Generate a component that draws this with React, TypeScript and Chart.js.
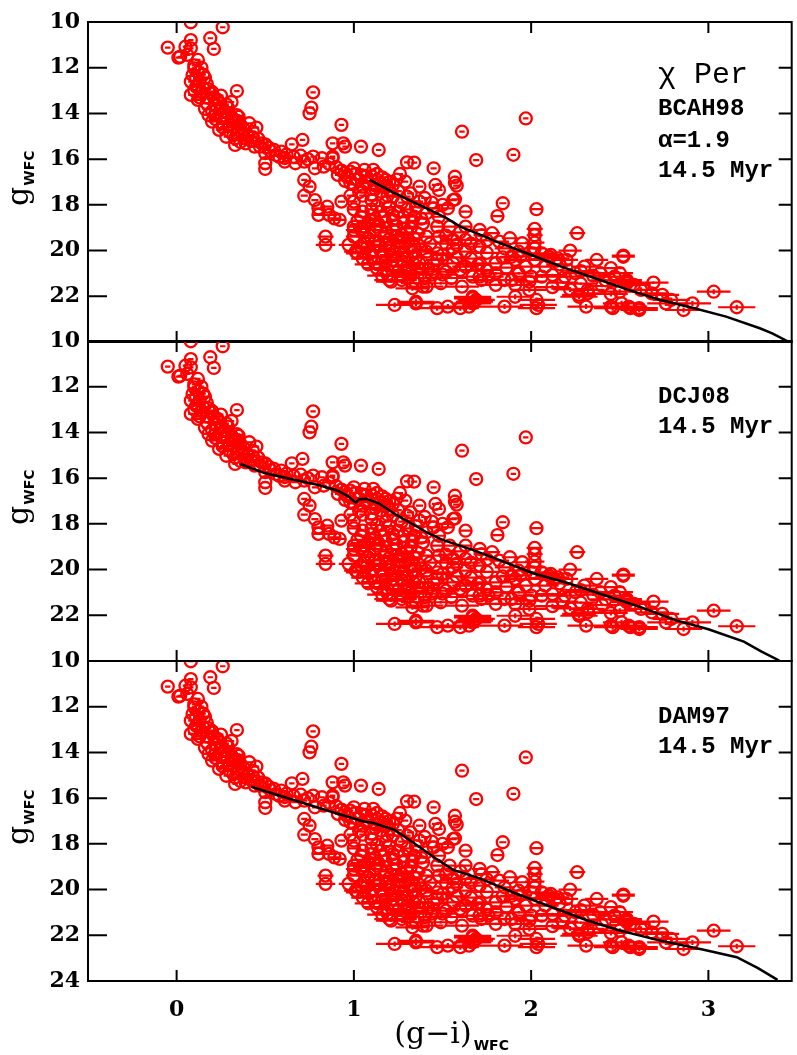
import React, { useEffect, useRef } from "react";
import { Chart, registerables } from "chart.js";

Chart.register(...registerables);

type Pt = [number, number];

// ---------- axes ----------
const X_MIN = -0.5;
const X_MAX = 3.47;
const xTickValues = [0, 1, 2, 3];
const yTickValues = [10, 12, 14, 16, 18, 20, 22, 24];

// ---------- stars: [(g-i)_WFC, g_WFC] ----------
const brightStars: Pt[] = [
  [0.08, 10.01], [0.26, 10.23], [0.19, 10.71], [0.08, 10.79], [0.05, 11.08], [-0.05, 11.12], [0.08, 11.15],
  [0.21, 11.18], [0.06, 11.44], [0.02, 11.52], [0.01, 11.56], [0.12, 11.66], [0.10, 11.9], [0.10, 12.03],
  [0.12, 12.2], [0.09, 12.32], [0.16, 12.44], [0.08, 12.61], [0.13, 12.6], [0.11, 12.83], [0.15, 12.9],
  [0.10, 13.0], [0.14, 13.05], [0.20, 13.06], [0.34, 13.02], [0.19, 13.12], [0.08, 13.19], [0.25, 13.22],
  [0.13, 13.3], [0.12, 13.41], [0.23, 13.4], [0.31, 13.5], [0.17, 13.56], [0.28, 13.6], [0.22, 13.63],
  [0.16, 13.8], [0.25, 13.8], [0.20, 13.9], [0.29, 14.0], [0.18, 14.07], [0.22, 14.07], [0.34, 14.07],
  [0.27, 14.2], [0.33, 14.3], [0.20, 14.36], [0.31, 14.36], [0.26, 14.43], [0.41, 14.43], [0.36, 14.5],
  [0.30, 14.5], [0.45, 14.62], [0.24, 14.72], [0.35, 14.72], [0.30, 14.8], [0.37, 14.9], [0.40, 15.0],
  [0.28, 15.02], [0.33, 15.09], [0.38, 15.09], [0.46, 15.1], [0.42, 15.2], [0.39, 15.31], [0.48, 15.31],
  [0.33, 15.38], [0.44, 15.45], [0.52, 15.5], [0.55, 15.6], [0.59, 15.67], [0.50, 15.74], [0.56, 15.82],
  [0.62, 15.8], [0.58, 15.9], [0.66, 15.9], [0.70, 15.85], [0.65, 15.35], [0.71, 15.16], [0.77, 13.08],
  [0.76, 13.75], [0.75, 14.0], [0.93, 14.5], [0.88, 15.31], [0.94, 15.31], [0.95, 15.45], [1.04, 15.45],
  [1.14, 15.6], [0.88, 15.89], [0.77, 15.89], [0.82, 15.96], [0.88, 15.96], [1.61, 14.8], [1.97, 14.22],
  [1.90, 15.81], [0.14, 12.0], [0.17, 12.7], [0.21, 13.3], [0.27, 13.9], [0.31, 14.15], [0.35, 14.35],
  [0.26, 14.6], [0.32, 14.95], [0.43, 14.8], [0.47, 15.45], [0.53, 15.65], [0.61, 15.95], [0.11, 12.45],
  [0.15, 12.3], [0.18, 12.95], [0.17, 13.3], [0.24, 13.55], [0.29, 13.75], [0.22, 14.25], [0.35, 14.15],
  [0.38, 14.7], [0.43, 15.05], [0.36, 15.25], [0.50, 15.35],
];

const midStars: Pt[] = [
  [0.74, 16.0], [0.50, 16.18], [0.50, 16.43], [0.61, 16.11], [0.67, 16.18], [0.72, 16.11], [0.78, 16.4],
  [0.83, 16.33], [0.86, 16.2], [0.90, 16.35], [0.72, 16.91], [0.75, 17.2], [0.72, 17.6], [0.78, 17.79],
  [0.80, 18.15], [0.85, 18.08], [0.80, 18.44], [0.86, 18.44], [0.89, 18.59], [0.92, 18.66], [0.93, 17.86],
  [1.00, 17.86], [0.91, 16.69], [0.96, 16.77], [0.98, 16.55], [1.00, 16.4], [1.02, 16.91], [1.04, 16.7],
  [1.06, 16.47], [1.08, 16.98], [1.10, 16.75], [1.11, 16.47], [1.13, 16.91], [1.15, 17.05], [1.18, 16.91],
  [1.05, 17.2], [1.12, 17.3], [1.20, 17.35], [1.22, 17.13], [1.26, 16.65], [1.29, 16.98], [1.30, 16.14],
  [1.34, 16.15], [1.45, 16.4], [1.37, 17.2], [1.46, 17.13], [1.48, 17.35], [1.57, 16.77], [1.57, 17.03],
  [1.58, 17.16], [1.57, 17.76], [1.69, 16.04], [1.15, 17.42], [1.22, 17.64], [1.30, 17.64], [1.25, 17.4],
  [1.32, 17.5], [1.40, 17.7], [1.37, 17.86], [1.44, 17.9], [1.50, 18.0], [1.56, 17.79], [0.98, 17.6],
  [1.05, 17.6], [1.10, 17.8], [1.18, 17.9], [1.27, 17.9], [1.35, 18.1], [1.53, 18.15], [1.20, 18.1],
  [1.10, 18.2], [1.00, 18.2], [1.05, 18.3], [1.15, 18.3], [1.25, 18.3], [1.41, 18.37], [1.63, 18.3],
  [1.48, 18.52], [1.34, 18.52], [1.28, 18.52], [1.17, 18.52], [1.04, 18.52], [1.22, 18.66], [1.09, 18.66],
  [1.08, 18.8], [1.18, 18.75], [1.28, 18.8], [1.39, 18.81], [1.84, 17.93], [1.81, 18.49], [2.03, 18.19],
  [1.00, 18.95], [1.06, 18.95], [1.13, 18.95], [1.47, 18.95], [1.54, 18.95], [1.63, 18.95], [0.93, 16.5],
  [0.95, 16.95], [1.00, 17.1], [1.07, 17.05], [1.12, 17.15], [1.17, 17.2], [1.03, 17.45], [1.10, 17.55],
  [1.19, 17.6], [1.13, 18.05], [1.22, 18.45], [1.12, 18.6], [1.30, 18.2], [1.45, 18.15], [1.38, 18.6],
  [0.95, 16.6], [1.01, 16.65], [1.07, 16.75], [1.13, 16.65], [1.16, 16.8], [1.20, 17.0], [1.24, 16.9],
  [0.98, 17.05], [1.02, 18.7], [1.14, 18.85], [1.24, 18.9], [1.33, 18.7],
];

const faintStars: Pt[] = [
  [0.84, 19.39], [0.84, 19.75], [0.97, 19.75], [1.01, 20.05], [1.00, 19.1], [1.05, 19.2], [1.18, 19.2],
  [1.22, 19.1], [1.30, 19.2], [1.32, 19.03], [1.60, 19.2], [1.71, 19.1], [1.72, 19.32], [1.78, 19.24],
  [1.00, 19.39], [1.08, 19.46], [1.17, 19.39], [1.24, 19.39], [1.34, 19.46], [1.41, 19.39], [1.48, 19.39],
  [1.56, 19.53], [1.63, 19.53], [1.82, 19.61], [1.88, 19.46], [1.95, 19.68], [1.12, 19.6], [1.25, 19.6],
  [1.43, 19.7], [1.52, 19.7], [1.04, 19.83], [1.11, 19.98], [1.20, 19.9], [1.26, 19.9], [1.34, 19.83],
  [1.41, 20.05], [1.47, 20.12], [1.56, 19.9], [1.63, 20.05], [1.71, 19.83], [1.15, 20.0], [1.28, 20.1],
  [1.02, 20.12], [1.10, 20.27], [1.22, 20.41], [1.30, 20.27], [1.37, 20.56], [1.47, 20.41], [1.56, 20.56],
  [1.63, 20.7], [1.70, 20.63], [1.50, 20.2], [1.08, 20.6], [1.18, 20.5], [1.45, 20.6], [1.13, 20.77],
  [1.19, 20.85], [1.30, 20.7], [1.37, 20.77], [1.45, 20.92], [1.52, 20.92], [1.60, 20.85], [1.25, 20.9],
  [1.32, 21.0], [1.16, 21.1], [1.40, 21.2], [1.55, 21.2], [1.20, 21.29], [1.27, 21.29], [1.21, 21.36],
  [1.35, 21.43], [1.41, 21.58], [1.49, 21.43], [1.61, 21.58], [1.67, 21.14], [1.72, 21.29], [1.33, 21.65],
  [1.39, 21.58], [1.67, 22.02], [1.68, 22.24], [1.67, 22.09], [1.67, 22.31], [1.23, 22.38], [1.35, 22.24],
  [1.47, 22.52], [1.53, 22.45], [1.60, 22.52], [1.65, 22.45], [1.35, 22.31], [2.02, 19.05], [2.02, 19.33],
  [2.02, 19.65], [2.02, 19.9], [2.01, 20.12], [2.26, 19.24], [2.22, 20.0], [2.52, 20.22], [2.37, 20.41],
  [2.06, 20.12], [2.11, 20.19], [2.15, 20.34], [1.91, 20.41], [1.97, 20.7], [2.45, 20.77], [2.50, 20.99],
  [2.30, 20.7], [2.25, 20.99], [2.19, 21.14], [2.12, 21.07], [2.00, 21.14], [1.71, 20.56], [1.71, 21.14],
  [1.76, 21.14], [1.80, 21.5], [1.85, 21.29], [1.89, 21.29], [1.99, 21.72], [2.54, 21.36], [2.50, 21.8],
  [1.91, 22.02], [2.03, 22.16], [2.03, 22.52], [2.04, 22.38], [2.27, 22.02], [2.32, 21.87], [2.31, 22.45],
  [2.45, 22.45], [2.55, 22.45], [1.85, 22.45], [1.69, 22.16], [1.80, 20.56], [1.89, 20.27], [2.02, 20.41],
  [2.10, 20.27], [2.20, 20.41], [1.91, 21.5], [1.99, 21.36], [2.06, 21.14], [2.52, 20.27], [2.69, 21.4],
  [2.54, 21.43], [2.58, 21.5], [2.62, 21.72], [2.68, 21.87], [2.74, 21.94], [2.79, 22.16], [2.76, 22.31],
  [3.03, 21.8], [2.91, 22.31], [2.86, 22.6], [3.16, 22.48], [2.61, 22.52], [2.39, 20.99], [2.47, 21.14],
  [2.54, 21.29], [2.32, 21.72], [2.27, 21.94], [2.46, 22.52], [2.51, 22.31], [2.56, 22.52], [2.61, 22.6],
  [1.06, 19.65], [1.14, 19.8], [1.29, 19.7], [1.38, 19.95], [1.21, 20.2], [1.35, 20.3], [1.42, 20.8],
  [1.27, 21.1], [1.50, 21.05], [1.58, 20.3], [1.66, 20.35], [1.75, 20.1], [1.85, 19.9], [1.93, 20.05],
  [1.04, 19.05], [1.12, 19.1], [1.27, 19.3], [1.36, 19.25], [1.09, 19.35], [1.20, 19.5], [1.31, 19.55],
  [1.07, 19.9], [1.18, 19.75], [1.23, 20.05], [1.33, 20.05], [1.05, 20.35], [1.16, 20.3], [1.27, 20.45],
  [1.34, 20.6], [1.12, 20.55], [1.22, 20.7], [1.29, 20.95], [1.19, 21.05], [1.36, 21.2], [1.44, 21.05],
  [1.52, 19.35], [1.58, 19.75], [1.66, 19.7], [1.75, 19.55], [1.84, 20.3], [1.94, 20.25], [1.75, 20.85],
  [1.86, 20.75], [1.93, 21.0], [1.80, 21.0], [2.08, 20.7], [2.16, 20.6], [2.28, 20.9], [2.35, 21.1],
  [2.42, 21.3], [2.18, 21.4], [2.28, 21.45], [2.40, 21.55], [2.12, 21.6], [2.45, 21.9], [2.22, 21.7],
];

// typical (g-i) and g error bars by magnitude: [upper g bound, error]
const colorErrByMag: Pt[] = [
  [16, 0.015], [17, 0.017], [18, 0.02], [19, 0.03], [19.5, 0.045], [20, 0.055],
  [20.5, 0.065], [21, 0.075], [21.5, 0.085], [22, 0.095], [99, 0.105],
];
const magErrByMag: Pt[] = [[20.8, 0], [21.6, 0.06], [99, 0.11]];

// ---------- isochrones (14.5 Myr) ----------
const isoBCAH98: Pt[] = [
  [1.09, 16.91], [1.22, 17.45], [1.41, 18.15], [1.52, 18.57], [1.60, 18.95], [1.74, 19.39], [1.80, 19.6],
  [1.99, 20.16], [2.17, 20.7], [2.36, 21.21], [2.54, 21.7], [2.73, 22.16], [2.91, 22.5],
  [3.10, 22.89], [3.29, 23.4], [3.36, 23.62], [3.45, 23.98],
];
const isoDCJ08: Pt[] = [
  [0.36, 15.38], [0.50, 15.79], [0.65, 16.05], [0.80, 16.3], [0.91, 16.55], [0.97, 16.81], [1.01, 17.07],
  [1.03, 16.92], [1.07, 16.9], [1.14, 17.1], [1.24, 17.61], [1.34, 18.05], [1.42, 18.41], [1.50, 18.7],
  [1.67, 19.14], [1.83, 19.61], [2.01, 20.16], [2.21, 20.6], [2.41, 21.11], [2.61, 21.62], [2.81, 22.2],
  [3.00, 22.61], [3.20, 23.15], [3.30, 23.59], [3.40, 23.98],
];
const isoDAM97: Pt[] = [
  [0.42, 15.5], [0.66, 16.08], [0.90, 16.66], [1.06, 17.03], [1.10, 17.07], [1.23, 17.39], [1.34, 17.97],
  [1.46, 18.63], [1.56, 19.14], [1.71, 19.51], [1.91, 20.16], [2.11, 20.75], [2.31, 21.33], [2.49, 21.77],
  [2.71, 22.2], [2.98, 22.64], [3.16, 22.96], [3.28, 23.44], [3.39, 23.95],
];

// ---------- labels ----------
const panelTitles: string[][] = [
  ["χ Per", "BCAH98", "α=1.9", "14.5 Myr"],
  ["DCJ08", "14.5 Myr"],
  ["DAM97", "14.5 Myr"],
];
const yTitleMain = "g";
const titleSub = "WFC";
const xTitleMain = "(g−i)";

const isochrones: Pt[][] = [isoBCAH98, isoDCJ08, isoDAM97];
const allStars: Pt[] = [...brightStars, ...midStars, ...faintStars];

// ---------- layout ----------
const RED = "#ff0000";
const PANEL_TOPS = [22, 341, 661];
const PANEL_H = 320;
const PAD = 22;
const PLOT_LEFT = 88;
const CANVAS_W = 800;
const PAGE_H = 1055;
const TICK_FONT = { family: "DejaVu Serif", size: 22, weight: "bold" as const };

function lookup(table: Pt[], g: number): number {
  for (const [b, e] of table) if (g < b) return e;
  return table[table.length - 1][1];
}

function canvasGeom(i: number) {
  const top = PANEL_TOPS[i] - PAD;
  const height = i === 2 ? PAGE_H - top : PAD + PANEL_H + PAD;
  return { top, height };
}

function makeChart(canvas: HTMLCanvasElement, i: number): Chart {
  const isBottom = i === 2;
  const plugin = {
    id: "cmdDecor" + i,
    beforeDatasetsDraw(chart: any) {
      const ctx = chart.ctx as CanvasRenderingContext2D;
      const a = chart.chartArea;
      const xs = chart.scales.x;
      const ys = chart.scales.y;
      ctx.save();
      ctx.beginPath();
      ctx.rect(a.left, a.top - 8, a.right - a.left, a.bottom - a.top + 16);
      ctx.clip();
      ctx.strokeStyle = RED;
      ctx.lineWidth = 2.2;
      ctx.beginPath();
      for (const [x, g] of allStars) {
        const e = lookup(colorErrByMag, g);
        const py = ys.getPixelForValue(g);
        ctx.moveTo(xs.getPixelForValue(x - e), py);
        ctx.lineTo(xs.getPixelForValue(x + e), py);
        const ge = lookup(magErrByMag, g);
        if (ge > 0) {
          const px = xs.getPixelForValue(x);
          ctx.moveTo(px, ys.getPixelForValue(g - ge));
          ctx.lineTo(px, ys.getPixelForValue(g + ge));
        }
      }
      ctx.stroke();
      ctx.restore();
    },
    afterDraw(chart: any) {
      const ctx = chart.ctx as CanvasRenderingContext2D;
      const a = chart.chartArea;
      const xs = chart.scales.x;
      const ys = chart.scales.y;
      ctx.save();
      ctx.strokeStyle = "#000";
      ctx.lineWidth = 2;
      ctx.strokeRect(a.left, a.top, a.right - a.left, a.bottom - a.top);
      ctx.beginPath();
      for (const v of xTickValues) {
        const px = xs.getPixelForValue(v);
        ctx.moveTo(px, a.top);
        ctx.lineTo(px, a.top + 11);
        ctx.moveTo(px, a.bottom);
        ctx.lineTo(px, a.bottom - 11);
      }
      for (const v of yTickValues) {
        const py = ys.getPixelForValue(v);
        ctx.moveTo(a.left, py);
        ctx.lineTo(a.left + 19, py);
        ctx.moveTo(a.right, py);
        ctx.lineTo(a.right - 13, py);
      }
      ctx.stroke();

      ctx.fillStyle = "#000";
      // y-axis title (rotated)
      ctx.save();
      ctx.translate(28, a.top + 184);
      ctx.rotate(-Math.PI / 2);
      ctx.textAlign = "left";
      ctx.textBaseline = "alphabetic";
      ctx.font = '30px "DejaVu Serif"';
      ctx.fillText(yTitleMain, 0, 0);
      const gw = ctx.measureText(yTitleMain).width;
      ctx.font = 'bold 14px "DejaVu Sans"';
      ctx.fillText(titleSub, gw + 1, 6);
      ctx.restore();

      // panel annotations
      const lines = panelTitles[i];
      ctx.textAlign = "left";
      ctx.textBaseline = "alphabetic";
      if (i === 0) {
        ctx.font = '30px "Liberation Mono"';
        ctx.fillText(lines[0], 658, a.top + 61);
        ctx.font = 'bold 24px "Liberation Mono"';
        ctx.fillText(lines[1], 658, a.top + 93);
        ctx.fillText(lines[2], 658, a.top + 125);
        ctx.fillText(lines[3], 658, a.top + 155);
      } else {
        ctx.font = 'bold 24px "Liberation Mono"';
        ctx.fillText(lines[0], 658, a.top + 62);
        ctx.fillText(lines[1], 658, a.top + 92);
      }

      // x-axis title
      if (isBottom) {
        ctx.font = '30px "DejaVu Serif"';
        ctx.textAlign = "center";
        ctx.fillText(xTitleMain, 433, a.bottom + 62);
        const w = ctx.measureText(xTitleMain).width;
        ctx.textAlign = "left";
        ctx.font = 'bold 14px "DejaVu Sans"';
        ctx.fillText(titleSub, 433 + w / 2 + 2, a.bottom + 69);
      }
      ctx.restore();
    },
  };

  return new Chart(canvas, {
    type: "scatter",
    data: {
      datasets: [
        {
          data: isochrones[i].map(([x, y]) => ({ x, y })),
          showLine: true,
          borderColor: "#000",
          backgroundColor: "#000",
          borderWidth: 2.5,
          pointRadius: 0,
          pointHoverRadius: 0,
          tension: 0,
          fill: false,
        },
        {
          data: allStars.map(([x, y]) => ({ x, y })),
          showLine: false,
          pointStyle: "circle",
          pointRadius: 6,
          pointHoverRadius: 6,
          borderWidth: 2.3,
          pointBorderWidth: 2.3,
          borderColor: RED,
          pointBorderColor: RED,
          backgroundColor: "rgba(0,0,0,0)",
          pointBackgroundColor: "rgba(0,0,0,0)",
        },
      ],
    },
    options: {
      animation: false,
      responsive: false,
      maintainAspectRatio: false,
      events: [],
      layout: { padding: { top: PAD, bottom: isBottom ? 0 : PAD, left: 0, right: 0 } },
      plugins: {
        legend: { display: false },
        tooltip: { enabled: false },
        title: { display: false },
      },
      scales: {
        x: {
          type: "linear",
          min: X_MIN,
          max: X_MAX,
          display: isBottom,
          grid: { display: false, drawTicks: false },
          border: { display: false },
          afterBuildTicks: (s: any) => {
            s.ticks = xTickValues.map((v) => ({ value: v }));
          },
          afterFit: (s: any) => {
            s.height = isBottom ? PAGE_H - PANEL_TOPS[2] - PANEL_H : 0;
          },
          ticks: {
            font: TICK_FONT,
            color: "#000",
            padding: 16,
            maxRotation: 0,
            autoSkip: false,
            callback: (v: any) => String(v),
          },
        },
        y: {
          type: "linear",
          min: 10,
          max: 24,
          reverse: true,
          grid: { display: false, drawTicks: false },
          border: { display: false },
          afterBuildTicks: (s: any) => {
            s.ticks = yTickValues.map((v) => ({ value: v }));
          },
          afterFit: (s: any) => {
            s.width = PLOT_LEFT;
          },
          ticks: {
            font: TICK_FONT,
            color: "#000",
            padding: 8,
            autoSkip: false,
            callback: (v: any) => (v === 24 && !isBottom ? "" : String(v)),
          },
        },
      },
    } as any,
    plugins: [plugin],
  });
}

function Panel({ index }: { index: number }) {
  const ref = useRef<HTMLCanvasElement | null>(null);
  const { top, height } = canvasGeom(index);
  useEffect(() => {
    if (!ref.current) return;
    const chart = makeChart(ref.current, index);
    return () => chart.destroy();
  }, [index]);
  return (
    <canvas
      ref={ref}
      width={CANVAS_W}
      height={height}
      style={{ position: "absolute", left: 0, top, width: CANVAS_W, height }}
    />
  );
}

export default function App() {
  return (
    <div
      style={{
        position: "absolute",
        left: 0,
        top: 0,
        width: 797,
        height: PAGE_H,
        overflow: "hidden",
        background: "#fff",
      }}
    >
      <Panel index={0} />
      <Panel index={1} />
      <Panel index={2} />
    </div>
  );
}
